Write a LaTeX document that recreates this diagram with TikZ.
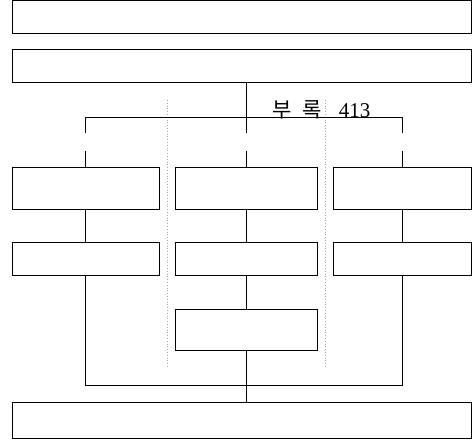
\documentclass[tikz,border=0pt]{standalone}
\usepackage{fontspec}
\setmainfont{Liberation Serif}
\newfontfamily\kofont{Noto Sans CJK KR}
\begin{document}
\begin{tikzpicture}[x=1pt,y=-1pt,
  boxstyle/.style={draw=black,line width=1pt,rectangle,inner sep=0pt,fill=white},
  conn/.style={draw=black,line width=1pt},
  guide/.style={draw=gray!70,line width=0.8pt,dotted}]
\useasboundingbox (0,0) rectangle (472,441);
% guides
\coordinate (g1t) at (167,100);
\coordinate (g1b) at (167,368);
\coordinate (g2t) at (325,100);
\coordinate (g2b) at (325,368);
\draw[guide] (g1t) -- (g1b);
\draw[guide] (g2t) -- (g2b);
% boxes
\node[boxstyle,minimum width=459.5pt,minimum height=32.5pt] (A) at (241.75,17.25) {};
\node[boxstyle,minimum width=459.5pt,minimum height=33pt] (B) at (241.75,66.5) {};
\node[boxstyle,minimum width=147pt,minimum height=42pt] (l1) at (85.5,189) {};
\node[boxstyle,minimum width=142pt,minimum height=42pt] (m1) at (246,189) {};
\node[boxstyle,minimum width=138.5pt,minimum height=42pt] (r1) at (402.25,189) {};
\node[boxstyle,minimum width=147pt,minimum height=33pt] (l2) at (85.5,259.5) {};
\node[boxstyle,minimum width=142pt,minimum height=33pt] (m2) at (246,259.5) {};
\node[boxstyle,minimum width=138.5pt,minimum height=33pt] (r2) at (402.25,259.5) {};
\node[boxstyle,minimum width=142pt,minimum height=41pt] (m3) at (246,330.5) {};
\node[boxstyle,minimum width=459.5pt,minimum height=36pt] (E) at (241.75,420) {};
% top bracket
\coordinate (tl) at (85.5,118);
\coordinate (tj) at (246,118);
\coordinate (tr) at (402.25,118);
\coordinate (la) at (85.5,133);
\coordinate (lb) at (85.5,151);
\coordinate (ma) at (246,133);
\coordinate (mb) at (246,151);
\coordinate (ra) at (402.25,133);
\coordinate (rb) at (402.25,151);
\draw[conn] (B.south -| tj) -- (tj);
\draw[conn] (la) -- (tl) -- (tr) -- (ra);
\draw[conn] (tj) -- (ma);
\draw[conn] (lb) -- (l1.north);
\draw[conn] (mb) -- (m1.north);
\draw[conn] (rb) -- (r1.north);
% columns
\draw[conn] (l1) -- (l2);
\draw[conn] (m1) -- (m2);
\draw[conn] (r1) -- (r2);
\draw[conn] (m2) -- (m3);
% bottom bracket
\coordinate (bl) at (85.5,385);
\coordinate (br) at (402.25,385);
\draw[conn] (l2.south) -- (bl) -- (br) -- (r2.south);
\draw[conn] (m3.south) -- (E.north -| m3.south);
% label
\node[anchor=base west,inner sep=0pt,font=\fontsize{21}{24}\selectfont] (lab) at (272,118) {{\kofont 부}\hspace{11pt}{\kofont 록}\hspace{17pt}413};
\end{tikzpicture}
\end{document}
